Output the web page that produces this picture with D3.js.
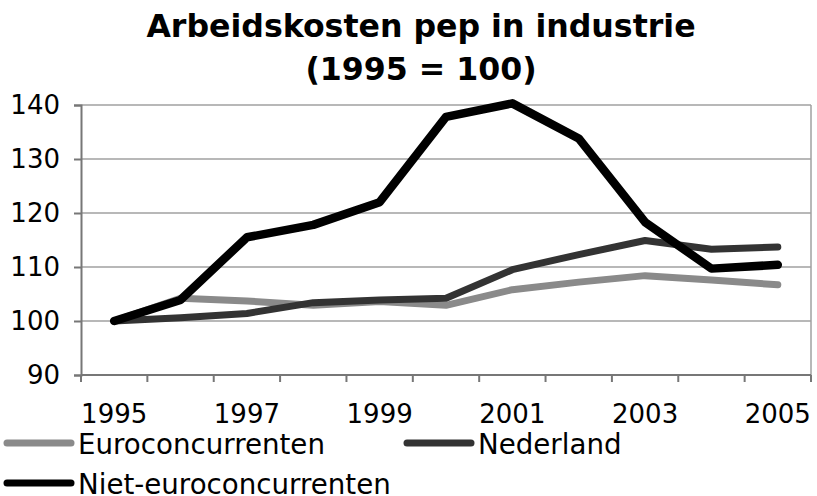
<!DOCTYPE html>
<html>
<head>
<meta charset="utf-8">
<script src="https://cdn.jsdelivr.net/npm/d3@7"></script>
<style>
  body { margin: 0; background: #fff; }
  svg { display: block; font-family: "DejaVu Sans", Verdana, sans-serif; }
</style>
</head>
<body>
<svg id="chart" width="817" height="496"></svg>
<script>
const years = ['1995', '1996', '1997', '1998', '1999', '2000', '2001', '2002', '2003', '2004', '2005'];
const yTicks = [90, 100, 110, 120, 130, 140];
const euroconcurrenten = [100, 104.2, 103.7, 102.9, 103.6, 102.9, 105.8, 107.2, 108.4, 107.6, 106.7];
const nederland = [100, 100.6, 101.4, 103.4, 103.9, 104.2, 109.5, 112.3, 114.9, 113.3, 113.7];
const nietEuro = [100, 103.9, 115.5, 117.8, 122, 137.8, 140.3, 133.8, 118.3, 109.7, 110.4];

const series = [
    { name: 'Euroconcurrenten', values: euroconcurrenten, color: '#8a8a8a', width: 7 },
    { name: 'Nederland', values: nederland, color: '#333333', width: 7 },
    { name: 'Niet-euroconcurrenten', values: nietEuro, color: '#000000', width: 8.5 }
];

const svg = d3.select('#chart');
const [mLeft, mRight, mTop, mBottom] = [81, 811, 105, 375];

const x = d3.scaleBand().domain(years).range([mLeft, mRight]);
const y = d3.scaleLinear().domain([90, 140]).range([mBottom, mTop]);

// title
const title = svg.append('text')
    .attr('x', 421)
    .attr('text-anchor', 'middle')
    .style('font-weight', 'bold')
    .style('font-size', '31.6px');
title.append('tspan').attr('x', 421).attr('y', 37).text('Arbeidskosten pep in industrie');
title.append('tspan').attr('x', 421).attr('y', 80).text('(1995 = 100)');

// gridlines
svg.append('g')
    .selectAll('line')
    .data(yTicks.slice(1))
    .join('line')
    .attr('x1', mLeft).attr('x2', mRight)
    .attr('y1', d => y(d)).attr('y2', d => y(d))
    .attr('stroke', '#a0a0a0')
    .attr('stroke-width', 1.5);

// plot border right
svg.append('line')
    .attr('x1', mRight).attr('x2', mRight)
    .attr('y1', mTop).attr('y2', mBottom)
    .attr('stroke', '#a0a0a0')
    .attr('stroke-width', 1.5);

// y axis
const yAxis = svg.append('g')
    .attr('transform', `translate(${mLeft},0)`)
    .call(d3.axisLeft(y).tickValues(yTicks).tickSize(7).tickPadding(14));
yAxis.selectAll('text')
    .style('font-size', '26px')
    .style('font-family', '"DejaVu Sans", Verdana, sans-serif')
    .attr('fill', '#000');
yAxis.select('.domain').attr('stroke', '#777').attr('stroke-width', 2);
yAxis.selectAll('.tick line').attr('stroke', '#777').attr('stroke-width', 2);

// x axis, ticks between categories
const xAxis = svg.append('g')
    .attr('transform', `translate(0,${mBottom})`);
xAxis.append('line')
    .attr('x1', mLeft).attr('x2', mRight)
    .attr('stroke', '#777').attr('stroke-width', 2);
xAxis.selectAll('.tick')
    .data(years.concat(['end']))
    .join('line')
    .attr('class', 'tick')
    .attr('x1', (d, i) => i < years.length ? x(d) : mRight)
    .attr('x2', (d, i) => i < years.length ? x(d) : mRight)
    .attr('y1', 0).attr('y2', 7)
    .attr('stroke', '#777').attr('stroke-width', 2);
xAxis.selectAll('.label')
    .data(years.filter((d, i) => i % 2 === 0))
    .join('text')
    .attr('class', 'label')
    .attr('x', d => x(d) + x.bandwidth() / 2)
    .attr('y', 48)
    .attr('text-anchor', 'middle')
    .style('font-size', '26px')
    .text(d => d);

// lines
const line = d3.line()
    .x((d, i) => x(years[i]) + x.bandwidth() / 2)
    .y(d => y(d));

svg.append('g')
    .selectAll('path')
    .data(series)
    .join('path')
    .attr('d', d => line(d.values))
    .attr('fill', 'none')
    .attr('stroke', d => d.color)
    .attr('stroke-width', d => d.width)
    .attr('stroke-linejoin', 'round')
    .attr('stroke-linecap', 'round');

// legend
const legendPos = [[7, 443], [407, 443], [7, 483]];
const legend = svg.append('g')
    .selectAll('g')
    .data(series)
    .join('g')
    .attr('transform', (d, i) => `translate(${legendPos[i][0]},${legendPos[i][1]})`);
legend.append('line')
    .attr('x1', 0).attr('x2', 64)
    .attr('stroke', d => d.color)
    .attr('stroke-width', 7)
    .attr('stroke-linecap', 'round');
legend.append('text')
    .attr('x', 71)
    .attr('y', 10.5)
    .style('font-size', '27.7px')
    .text(d => d.name);
</script>
</body>
</html>
